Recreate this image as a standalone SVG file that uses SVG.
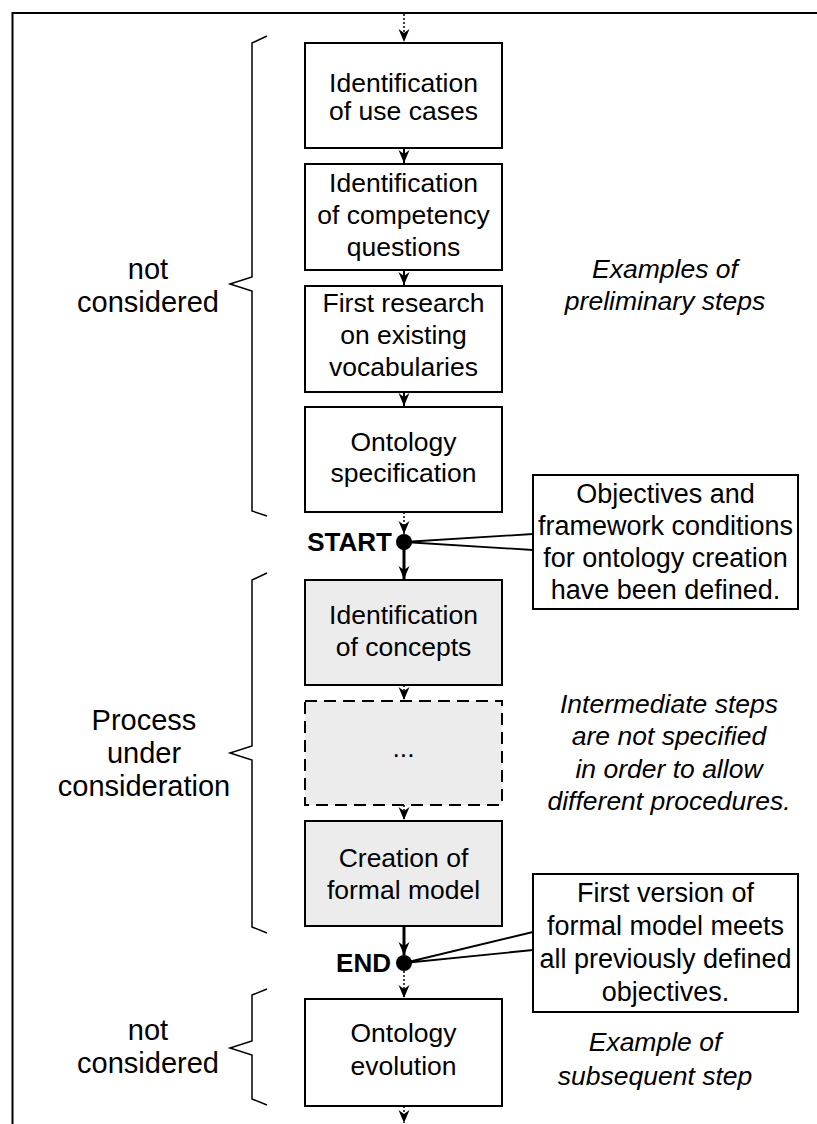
<svg xmlns="http://www.w3.org/2000/svg" width="817" height="1124" viewBox="0 0 817 1124">
<style>
text{font-family:"Liberation Sans",Arial,sans-serif;fill:#000}
.bt{font-size:26.5px;text-anchor:middle}
.ct{font-size:27px;text-anchor:middle}
.it{font-size:26.5px;font-style:italic;text-anchor:middle}
.lt{font-size:29px;text-anchor:middle}
.bd{font-size:26px;font-weight:bold;text-anchor:end}
.box{fill:#fff;stroke:#000;stroke-width:2}
.gbox{fill:#ececec;stroke:#000;stroke-width:2}
.dbox{fill:#ececec;stroke:#000;stroke-width:2;stroke-dasharray:12 7}
.sol{fill:none;stroke:#000;stroke-width:2}
.thk{fill:none;stroke:#000;stroke-width:3}
.dot{fill:none;stroke:#000;stroke-width:1.5;stroke-dasharray:2 2}
.brk{fill:none;stroke:#000;stroke-width:1.5}
.ptr{fill:none;stroke:#000;stroke-width:1.8}
</style>
<defs>
<marker id="ah" markerUnits="userSpaceOnUse" markerWidth="14" markerHeight="12" viewBox="-13 -6 14 12" refX="0" refY="0" orient="auto">
<path d="M-13,-5.5 L0,0 L-13,5.5 L-9,0 Z" fill="#000"/>
</marker>
</defs>
<g id="frame">
<line x1="12" y1="13" x2="817" y2="13" stroke="#000" stroke-width="2"/>
<line x1="12.5" y1="12" x2="12.5" y2="1124" stroke="#000" stroke-width="2"/>
</g>
<g id="connectors">
<line class="dot" x1="404" y1="14" x2="404" y2="42" marker-end="url(#ah)"/>
<line class="sol" x1="404" y1="148" x2="404" y2="163" marker-end="url(#ah)"/>
<line class="sol" x1="404" y1="270" x2="404" y2="285" marker-end="url(#ah)"/>
<line class="sol" x1="404" y1="392" x2="404" y2="406" marker-end="url(#ah)"/>
<line class="dot" x1="404" y1="512" x2="404" y2="534" marker-end="url(#ah)"/>
<line class="thk" x1="404" y1="542" x2="404" y2="579" marker-end="url(#ah)"/>
<line class="dot" x1="404" y1="685" x2="404" y2="700" marker-end="url(#ah)"/>
<line class="dot" x1="404" y1="805" x2="404" y2="820" marker-end="url(#ah)"/>
<line class="thk" x1="404" y1="926" x2="404" y2="955" marker-end="url(#ah)"/>
<line class="dot" x1="404" y1="971" x2="404" y2="998" marker-end="url(#ah)"/>
<line class="dot" x1="404" y1="1106" x2="404" y2="1123" marker-end="url(#ah)"/>
<polyline class="ptr" points="533,534 404,542 533,550"/>
<polyline class="ptr" points="533,932 404,963 533,950"/>
</g>
<g id="brackets">
<path class="brk" d="M267,36 L252,43 L252,277 L230,284 L252,291 L252,511 L267,516"/>
<path class="brk" d="M267,573 L252,580 L252,746 L230,753 L252,760 L252,927 L267,933"/>
<path class="brk" d="M267,989 L252,995 L252,1041 L230,1048 L252,1055 L252,1099 L267,1105"/>
</g>
<g id="label-not-considered-1">
<text class="lt" x="148" y="279">not</text>
<text class="lt" x="148" y="312">considered</text>
</g>
<g id="label-process">
<text class="lt" x="144" y="730">Process</text>
<text class="lt" x="144" y="763">under</text>
<text class="lt" x="144" y="796">consideration</text>
</g>
<g id="label-not-considered-2">
<text class="lt" x="148" y="1040">not</text>
<text class="lt" x="148" y="1073">considered</text>
</g>
<g id="n1">
<rect class="box" x="305" y="43" width="197" height="105"/>
<text class="bt" x="403.5" y="92">Identification</text>
<text class="bt" x="403.5" y="120">of use cases</text>
</g>
<g id="n2">
<rect class="box" x="305" y="164" width="197" height="106"/>
<text class="bt" x="403.5" y="192">Identification</text>
<text class="bt" x="403.5" y="224">of competency</text>
<text class="bt" x="403.5" y="256">questions</text>
</g>
<g id="n3">
<rect class="box" x="305" y="286" width="197" height="106"/>
<text class="bt" x="403.5" y="312">First research</text>
<text class="bt" x="403.5" y="344">on existing</text>
<text class="bt" x="403.5" y="376">vocabularies</text>
</g>
<g id="n4">
<rect class="box" x="305" y="407" width="197" height="105"/>
<text class="bt" x="403.5" y="451">Ontology</text>
<text class="bt" x="403.5" y="482">specification</text>
</g>
<g id="start">
<circle cx="404" cy="542" r="8" fill="#000"/>
<text class="bd" x="392" y="551">START</text>
</g>
<g id="callout-start">
<rect class="box" x="533" y="475" width="265" height="134"/>
<text class="ct" x="665.5" y="503">Objectives and</text>
<text class="ct" x="665.5" y="535">framework conditions</text>
<text class="ct" x="665.5" y="567">for ontology creation</text>
<text class="ct" x="665.5" y="599">have been defined.</text>
</g>
<g id="n5">
<rect class="gbox" x="305" y="580" width="197" height="105"/>
<text class="bt" x="403.5" y="624">Identification</text>
<text class="bt" x="403.5" y="656">of concepts</text>
</g>
<g id="n6">
<rect class="dbox" x="305" y="701" width="197" height="104"/>
<text class="bt" x="403.5" y="757">...</text>
</g>
<g id="n7">
<rect class="gbox" x="305" y="821" width="197" height="105"/>
<text class="bt" x="403.5" y="867">Creation of</text>
<text class="bt" x="403.5" y="899">formal model</text>
</g>
<g id="end">
<circle cx="404" cy="963" r="8" fill="#000"/>
<text class="bd" x="391" y="972">END</text>
</g>
<g id="callout-end">
<rect class="box" x="533" y="874" width="265" height="138"/>
<text class="ct" x="665.5" y="902">First version of</text>
<text class="ct" x="665.5" y="935">formal model meets</text>
<text class="ct" x="665.5" y="968">all previously defined</text>
<text class="ct" x="665.5" y="1001">objectives.</text>
</g>
<g id="n8">
<rect class="box" x="305" y="999" width="197" height="107"/>
<text class="bt" x="403.5" y="1042">Ontology</text>
<text class="bt" x="403.5" y="1075">evolution</text>
</g>
<g id="note-preliminary">
<text class="it" x="665" y="278">Examples of</text>
<text class="it" x="665" y="310">preliminary steps</text>
</g>
<g id="note-intermediate">
<text class="it" x="669" y="713">Intermediate steps</text>
<text class="it" x="669" y="745">are not specified</text>
<text class="it" x="669" y="778">in order to allow</text>
<text class="it" x="669" y="810">different procedures.</text>
</g>
<g id="note-subsequent">
<text class="it" x="655" y="1051">Example of</text>
<text class="it" x="655" y="1085">subsequent step</text>
</g>
</svg>
